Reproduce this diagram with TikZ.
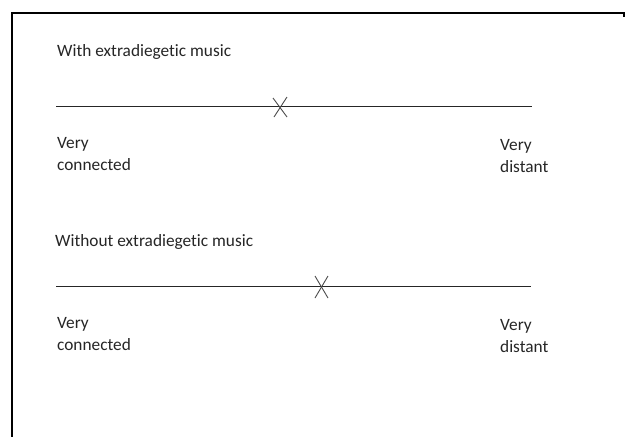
\documentclass[tikz,border=0pt]{standalone}
\usepackage{fontspec}
\setmainfont[Ligatures=NoCommon]{Carlito}
\usetikzlibrary{calc}
\begin{document}
\begin{tikzpicture}[x=1pt,y=-1pt,
  lbl/.style={inner sep=0pt,anchor=base west,align=left,font=\fontsize{17.3}{21.5}\selectfont,text=black!85},
  scaleline/.style={line width=1.2pt,draw=black!85},
  cross/.style={line width=0.9pt,draw=black!70}]
\useasboundingbox (0,0) rectangle (625,437);
\fill[white] (0,0) rectangle (625,437);
% frame
\draw[line width=2.6pt] (12,437) -- (12,13);
\draw[line width=1.6pt] (11,13) -- (624,13) -- (624,17);
% first scale
\node[lbl] (t1) at (57,56) {With extradiegetic music};
\coordinate (a1) at (56,106.5);
\coordinate (b1) at (532,106.5);
\draw[scaleline] (a1) -- (b1);
\coordinate (x1) at (280,107);
\draw[cross] ($(x1)+(-7,-9)$) -- ($(x1)+(7,10)$);
\draw[cross] ($(x1)+(7,-10)$) -- ($(x1)+(-6,10)$);
\node[lbl] (l1) at (57,170) {Very\\connected};
\node[lbl] (r1) at (500,172) {Very\\distant};
% second scale
\node[lbl] (t2) at (55,246) {Without extradiegetic music};
\coordinate (a2) at (56,286.5);
\coordinate (b2) at (531,286.5);
\draw[scaleline] (a2) -- (b2);
\coordinate (x2) at (321,287);
\draw[cross] ($(x2)+(-6,-11)$) -- ($(x2)+(7,11)$);
\draw[cross] ($(x2)+(7,-11)$) -- ($(x2)+(-6,11)$);
\node[lbl] (l2) at (57,350) {Very\\connected};
\node[lbl] (r2) at (500,352) {Very\\distant};
\end{tikzpicture}
\end{document}
